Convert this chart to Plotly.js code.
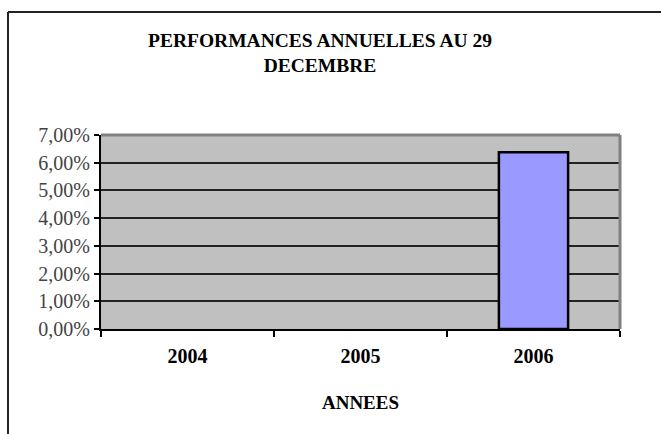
<!DOCTYPE html>
<html>
<head>
<meta charset="utf-8">
<script src="https://cdn.plot.ly/plotly-3.0.1.min.js"></script>
<style>
html,body{margin:0;padding:0;background:#fff;}
#chart{width:661px;height:434px;}
</style>
</head>
<body>
<div id="chart"></div>
<script>
var years = ['2004', '2005', '2006'];
var performances = [null, null, 0.0638];
var yTicks = [0, 0.01, 0.02, 0.03, 0.04, 0.05, 0.06, 0.07];

var L = 101, R = 620, T = 135, B = 329, W = 661, H = 434;
var pw = R - L, ph = B - T;

var trace = {
  type: 'bar',
  x: years,
  y: performances,
  marker: {color: '#9999FF', line: {color: '#000000', width: 2.5}},
  hoverinfo: 'skip'
};

var layout = {
  width: W, height: H,
  margin: {l: L, r: W - R, t: T, b: H - B, pad: 0},
  paper_bgcolor: '#ffffff',
  plot_bgcolor: '#C0C0C0',
  separators: ',.',
  bargap: 0.6,
  showlegend: false,
  font: {family: '"Liberation Serif", "Times New Roman", serif', color: '#000'},
  title: {
    text: 'PERFORMANCES ANNUELLES AU 29<br>DECEMBRE',
    font: {family: '"Liberation Serif", "Times New Roman", serif', size: 19.5, color: '#000', weight: 'bold'},
    x: 320 / W, xref: 'container', xanchor: 'center',
    y: 1 - 47 / H, yref: 'container', yanchor: 'top'
  },
  xaxis: {
    type: 'category',
    categoryorder: 'array',
    categoryarray: years,
    range: [-0.5, 2.5],
    tickson: 'boundaries',
    ticks: 'outside', ticklen: 6, tickwidth: 2, tickcolor: '#000',
    ticklabelstandoff: 8,
    showline: true, linecolor: '#000', linewidth: 2,
    showgrid: false, zeroline: false,
    tickfont: {size: 20, color: '#000', weight: 'bold'},
    title: {text: 'ANNEES', font: {size: 19, color: '#000', weight: 'bold'}, standoff: 30},
    fixedrange: true
  },
  yaxis: {
    range: [0, 0.07],
    tickvals: yTicks,
    tickformat: '.2%',
    ticks: 'outside', ticklen: 5, tickwidth: 2, tickcolor: '#000',
    showline: true, linecolor: '#000', linewidth: 2,
    showgrid: true, gridcolor: '#222', gridwidth: 2,
    zeroline: false,
    tickfont: {size: 20, color: '#444'},
    fixedrange: true
  },
  shapes: [
    {type: 'line', xref: 'paper', yref: 'paper', x0: 0, x1: 1, y0: 1, y1: 1,
     line: {color: '#808080', width: 3}, layer: 'above'},
    {type: 'line', xref: 'paper', yref: 'paper', x0: 1, x1: 1, y0: 0, y1: 1,
     line: {color: '#808080', width: 3}, layer: 'above'},
    {type: 'line', xref: 'paper', yref: 'paper',
     x0: (8 - L) / pw, x1: (661 - L) / pw,
     y0: (B - 12) / ph, y1: (B - 12) / ph,
     line: {color: '#222', width: 2}, layer: 'above'},
    {type: 'line', xref: 'paper', yref: 'paper',
     x0: (8 - L) / pw, x1: (8 - L) / pw,
     y0: (B - 434) / ph, y1: (B - 12) / ph,
     line: {color: '#222', width: 2}, layer: 'above'}
  ]
};

Plotly.newPlot('chart', [trace], layout, {displayModeBar: false, staticPlot: true});
</script>
</body>
</html>
